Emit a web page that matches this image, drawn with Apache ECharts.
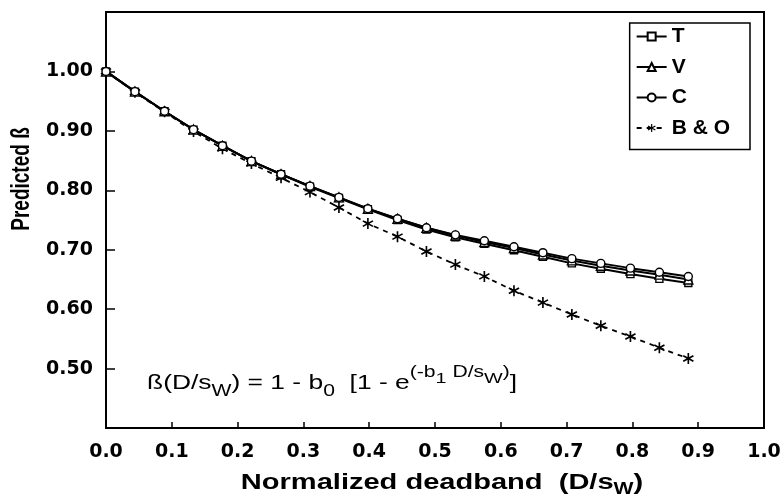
<!DOCTYPE html>
<html>
<head>
<meta charset="utf-8">
<script src="https://cdn.jsdelivr.net/npm/echarts@6/dist/echarts.min.js"></script>
<style>
  html, body { margin: 0; padding: 0; background: #fff; }
  #chart { width: 784px; height: 502px; }
</style>
</head>
<body>
<div id="chart"></div>
<script>
// Normalized deadband D/sw at which each model was evaluated
const deadband = [0, 0.044, 0.089, 0.133, 0.177, 0.221, 0.266, 0.310, 0.354, 0.398,
                  0.443, 0.487, 0.531, 0.575, 0.620, 0.664, 0.708, 0.752, 0.797, 0.841, 0.885];

// Predicted beta for each model
const betaT  = [1.000, 0.966, 0.933, 0.902, 0.875, 0.849, 0.827, 0.806, 0.787, 0.768,
                0.750, 0.734, 0.721, 0.710, 0.699, 0.688, 0.677, 0.668, 0.659, 0.651, 0.644];
const betaV  = [1.000, 0.966, 0.933, 0.902, 0.875, 0.849, 0.827, 0.807, 0.788, 0.769,
                0.752, 0.737, 0.724, 0.713, 0.703, 0.692, 0.682, 0.673, 0.665, 0.658, 0.650];
const betaC  = [1.000, 0.966, 0.933, 0.902, 0.875, 0.849, 0.827, 0.807, 0.788, 0.769,
                0.752, 0.737, 0.725, 0.715, 0.705, 0.695, 0.685, 0.677, 0.669, 0.662, 0.655];
const betaBO = [1.000, 0.965, 0.932, 0.899, 0.870, 0.845, 0.821, 0.797, 0.771, 0.744,
                0.722, 0.697, 0.675, 0.655, 0.631, 0.611, 0.591, 0.572, 0.554, 0.535, 0.517];

const seriesNames = ['T', 'V', 'C', 'B & O'];

const xTicks = [0, 0.1, 0.2, 0.3, 0.4, 0.5, 0.6, 0.7, 0.8, 0.9, 1.0];
const yTicks = [0.50, 0.60, 0.70, 0.80, 0.90, 1.00];

const FONT = '"Liberation Sans", Arial, Helvetica, sans-serif';
const WIDE = '"DejaVu Sans", Verdana, sans-serif';

// six-armed asterisk built from three thin bars
function asteriskPath() {
  const L = 10, W = 1.4;
  let d = '';
  [90, 30, 150].forEach(function (deg) {
    const a = deg * Math.PI / 180;
    const ux = Math.cos(a), uy = Math.sin(a);
    const px = -uy, py = ux;
    const pts = [
      [-L * ux - W * px, -L * uy - W * py],
      [ L * ux - W * px,  L * uy - W * py],
      [ L * ux + W * px,  L * uy + W * py],
      [-L * ux + W * px, -L * uy + W * py]
    ];
    d += 'M' + pts.map(function (p) { return p[0].toFixed(2) + ',' + p[1].toFixed(2); }).join(' L') + ' Z ';
  });
  return 'path://' + d;
}

function pairs(ys) { return deadband.map(function (x, i) { return [x, ys[i]]; }); }

const chart = echarts.init(document.getElementById('chart'), null, { renderer: 'canvas' });

const hollow = { color: '#fff', borderColor: '#000', borderWidth: 1.4 };

chart.setOption({
  backgroundColor: '#fff',
  animation: false,
  textStyle: { fontFamily: FONT },
  grid: {
    left: 106, right: 20, top: 12, bottom: 74,
    show: true, borderColor: '#000', borderWidth: 2, backgroundColor: 'transparent'
  },
  legend: {
    data: seriesNames,
    orient: 'vertical',
    right: 34, top: 23,
    itemWidth: 30, itemHeight: 10, itemGap: 9.5,
    padding: [3, 20, 11, 6],
    backgroundColor: '#fff',
    borderColor: '#000', borderWidth: 1.5, borderRadius: 0,
    textStyle: { fontFamily: FONT, fontWeight: 'bold', fontSize: 21, color: '#000' }
  },
  xAxis: {
    type: 'value', min: 0, max: 1, interval: 0.1,
    axisLine: { lineStyle: { color: '#000', width: 2 } },
    axisTick: { inside: true, length: 6, lineStyle: { color: '#000', width: 1.5 } },
    axisLabel: {
      margin: 15, color: '#000', fontFamily: WIDE, fontWeight: 'bold', fontSize: 19,
      customValues: xTicks,
      formatter: function (v) { return v.toFixed(1); }
    },
    splitLine: { show: false }
  },
  yAxis: {
    type: 'value', min: 0.4, max: 1.1, interval: 0.1,
    axisLine: { lineStyle: { color: '#000', width: 2 } },
    axisTick: { inside: true, length: 9, lineStyle: { color: '#000', width: 1.5 }, customValues: yTicks },
    axisLabel: {
      margin: 13, color: '#000', fontFamily: WIDE, fontWeight: 'bold', fontSize: 19,
      customValues: yTicks,
      formatter: function (v) { return v.toFixed(2); }
    },
    splitLine: { show: false }
  },
  graphic: [
    {
      type: 'text', x: 22, y: 179, rotation: Math.PI / 2, scaleY: 1.35,
      style: {
        text: 'Predicted ß', fill: '#000', font: 'bold 19px ' + FONT,
        align: 'center', verticalAlign: 'middle'
      }
    },
    {
      type: 'text', x: 442, y: 483, scaleX: 1.32,
      style: {
        text: 'Normalized deadband  (D/s{sub|W})',
        fill: '#000', font: 'bold 22px ' + FONT,
        align: 'center', verticalAlign: 'middle', lineHeight: 30,
        rich: {
          sub: { fontSize: 16, fontWeight: 'bold', fontFamily: FONT, fill: '#000', verticalAlign: 'bottom', lineHeight: 16 }
        }
      }
    },
    {
      type: 'text', x: 147, y: 383, scaleX: 1.32,
      style: {
        text: 'ß(D/s{sub|W}) = 1 - b{sub|0}  [1 - e{sup|(-b}{supsub|1}{sup| D/s}{supsub|W}{sup|)}]',
        fill: '#000', verticalAlign: 'middle',
        font: '20px ' + FONT,
        lineHeight: 36,
        rich: {
          sub:    { fontSize: 16, fontFamily: FONT, fill: '#000', verticalAlign: 'bottom', lineHeight: 16, padding: [0, 0, 1, 0] },
          sup:    { fontSize: 16, fontFamily: FONT, fill: '#000', verticalAlign: 'top', lineHeight: 16 },
          supsub: { fontSize: 15, fontFamily: FONT, fill: '#000', verticalAlign: 'top', lineHeight: 15, padding: [6, 0, 0, 0] }
        }
      }
    }
  ],
  series: [
    {
      name: 'B & O', type: 'line', data: pairs(betaBO), z: 1,
      symbol: asteriskPath(), symbolSize: 11, showAllSymbol: true,
      lineStyle: { color: '#000', width: 1.8, type: [5, 5] },
      itemStyle: { color: '#000' }
    },
    {
      name: 'T', type: 'line', data: pairs(betaT), z: 2,
      symbol: 'rect', symbolSize: 7, showAllSymbol: true,
      lineStyle: { color: '#000', width: 2 },
      itemStyle: hollow
    },
    {
      name: 'V', type: 'line', data: pairs(betaV), z: 3,
      symbol: 'triangle', symbolSize: 9, showAllSymbol: true,
      lineStyle: { color: '#000', width: 2 },
      itemStyle: hollow
    },
    {
      name: 'C', type: 'line', data: pairs(betaC), z: 4,
      symbol: 'circle', symbolSize: 8, showAllSymbol: true,
      lineStyle: { color: '#000', width: 2 },
      itemStyle: hollow
    }
  ]
});
</script>
</body>
</html>
